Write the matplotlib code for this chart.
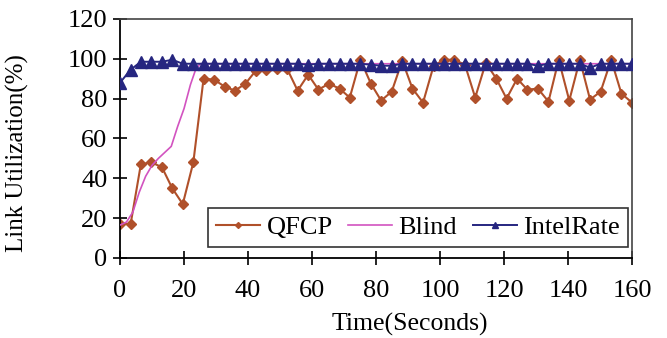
import matplotlib
matplotlib.use("Agg")
import matplotlib.pyplot as plt

plt.rcParams["font.family"] = ["Liberation Serif", "DejaVu Serif"]

# sample times (s) shared by QFCP and IntelRate
time = [0, 3.3, 6.5, 9.8, 13.1, 16.3, 19.6, 22.9, 26.1, 29.4,
        32.7, 35.9, 39.2, 42.4, 45.7, 49.0, 52.2, 55.5, 58.8, 62.0,
        65.3, 68.6, 71.8, 75.1, 78.4, 81.6, 84.9, 88.2, 91.4, 94.7,
        98.0, 101.2, 104.5, 107.8, 111.0, 114.3, 117.6, 120.8, 124.1, 127.3,
        130.6, 133.9, 137.1, 140.4, 143.7, 146.9, 150.2, 153.5, 156.7, 160.0]

qfcp = [17, 17, 47, 48, 45.5, 35, 27, 48, 90, 89.5,
        86, 84, 87.5, 94, 94.5, 95, 95, 84, 92, 84.5,
        87.5, 85, 80.5, 99.5, 87.5, 79, 83.5, 99, 85, 78,
        96.5, 99.5, 99.5, 97, 80.5, 98, 90, 80, 90, 84.5,
        85, 78.5, 99.5, 79, 99.5, 79.5, 83.5, 99.5, 82.5, 78]

intelrate = [88, 94.5, 98.5, 98.5, 98.5, 99.5, 97.5, 97.5, 97.5, 97.5,
             97.5, 97.5, 97.5, 97.5, 97.5, 97.5, 97.5, 97.5, 97, 97.5,
             97.5, 97.5, 97.5, 97.5, 97, 96.5, 96.5, 97.5, 97.5, 97.5,
             97.5, 97.5, 97.5, 97.5, 97.5, 97.5, 97.5, 97.5, 97.5, 97.5,
             96.5, 97.5, 97.5, 97.5, 97.5, 95.5, 97.5, 97.5, 97.5, 97.5]

# Blind is a smooth line, read more densely in the ramp-up
blind_time = [0, 2, 4, 6, 8, 10, 12, 14, 16, 18, 20, 22, 23.5, 25,
              40, 60, 80, 100, 120, 140, 160]
blind = [16.5, 18, 23, 33, 41, 46.5, 50, 53, 56, 66, 75, 87, 94, 97.5,
         97.5, 97.5, 97.5, 97.5, 97.5, 97.5, 97.5]

fig = plt.figure(figsize=(6.67, 3.38), dpi=100)
ax = fig.add_axes([0.18, 0.237, 0.7675, 0.707])

ax.plot(time, qfcp, color="#b0502a", lw=1.5, marker="D", ms=5, label="QFCP", zorder=2)
ax.plot(blind_time, blind, color="#d253c0", lw=1.2, label="Blind", zorder=3)
ax.plot(time, intelrate, color="#262680", lw=1.4, marker="^", ms=8, label="IntelRate", zorder=4)

ax.set_xlim(0, 160)
ax.set_ylim(0, 120)
ax.set_xticks(range(0, 161, 20))
ax.set_yticks(range(0, 121, 20))
ax.tick_params(direction="inout", length=10, width=1.2, labelsize=19, pad=4)
ax.tick_params(axis="x", pad=11)
for side in ("left", "bottom"):
    ax.spines[side].set_linewidth(1.3)
for side in ("top", "right"):
    ax.spines[side].set_color("#444444")
    ax.spines[side].set_linewidth(1.2)

ax.set_xlabel("Time(Seconds)", fontsize=18.5)
ax.set_ylabel("Link Utilization(%)", fontsize=18)
ax.xaxis.set_label_coords(0.566, -0.23)
ax.yaxis.set_label_coords(-0.177, 0.44)

leg = ax.legend(loc="lower right", ncol=3, fontsize=19, frameon=True, fancybox=False,
                edgecolor="black", handlelength=1.65, handletextpad=0.25, columnspacing=0.6,
                borderpad=0.3, borderaxespad=0, bbox_to_anchor=(0.992, 0.046), markerscale=0.6)
leg.get_frame().set_linewidth(1.2)

fig.savefig("out.png", dpi=100)
